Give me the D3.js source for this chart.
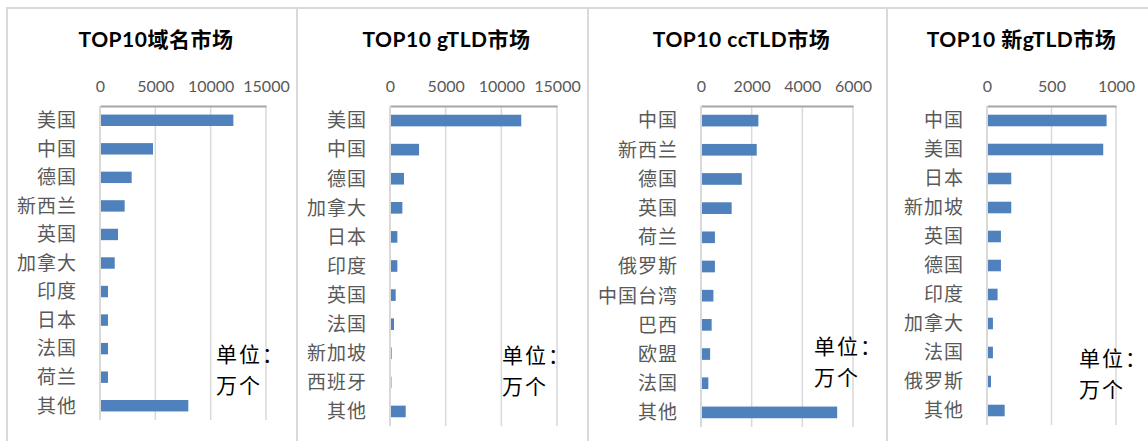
<!DOCTYPE html>
<html>
<head>
<meta charset="utf-8">
<script src="https://cdn.jsdelivr.net/npm/d3@7"></script>
<style>
  body { margin: 0; background: #fff; }
  svg { display: block; }
</style>
</head>
<body>
<svg id="chart" width="1148" height="441"></svg>
<script>
// data (units: 万个)
var titles = ["TOP10域名市场", "TOP10 gTLD市场", "TOP10 ccTLD市场", "TOP10 新gTLD市场"];

var allCats = ["美国", "中国", "德国", "新西兰", "英国", "加拿大", "印度", "日本", "法国", "荷兰", "其他"];
var allVals = [12050, 4790, 2860, 2230, 1630, 1330, 720, 720, 720, 720, 7980];

var gtldCats = ["美国", "中国", "德国", "加拿大", "日本", "印度", "英国", "法国", "新加坡", "西班牙", "其他"];
var gtldVals = [11790, 2610, 1260, 1110, 660, 660, 510, 360, 150, 130, 1410];

var cctldCats = ["中国", "新西兰", "德国", "英国", "荷兰", "俄罗斯", "中国台湾", "巴西", "欧盟", "法国", "其他"];
var cctldVals = [2265, 2200, 1610, 1210, 550, 550, 490, 420, 360, 290, 5375];

var newCats = ["中国", "美国", "日本", "新加坡", "英国", "德国", "印度", "加拿大", "法国", "俄罗斯", "其他"];
var newVals = [927, 901, 188, 188, 108, 108, 82, 46, 46, 31, 137];

var tickSets = [
    [0, 5000, 10000, 15000],
    [0, 5000, 10000, 15000],
    [0, 2000, 4000, 6000],
    [0, 500, 1000]
];

var unitLines = ["单位：", "万个"];

// layout of each panel (pixels)
var layout = [
    { left: 7,   right: 297, x0: 100, x1: 266, y0: 106, y1: 420, ux: 216, uy: 354 },
    { left: 297, right: 588, x0: 390, x1: 557, y0: 106, y1: 426, ux: 502, uy: 355 },
    { left: 588, right: 887, x0: 701, x1: 853, y0: 106, y1: 427, ux: 814, uy: 346 },
    { left: 887, right: 1148, x0: 987, x1: 1116, y0: 106, y1: 425, ux: 1079, uy: 358 }
];

var panels = [
    { cats: allCats, vals: allVals },
    { cats: gtldCats, vals: gtldVals },
    { cats: cctldCats, vals: cctldVals },
    { cats: newCats, vals: newVals }
];

var svg = d3.select("#chart");

// outer frame
svg.append("line")
    .attr("x1", 7).attr("x2", 1148).attr("y1", 8).attr("y2", 8)
    .attr("stroke", "#d9d9d9").attr("stroke-width", 2);

panels.forEach(function(p, i) {
    var L = layout[i];
    var ticks = tickSets[i];
    var g = svg.append("g");

    g.append("line")
        .attr("x1", L.left).attr("x2", L.left)
        .attr("y1", 7).attr("y2", 441)
        .attr("stroke", "#d9d9d9").attr("stroke-width", 2);

    var x = d3.scaleLinear()
        .domain([0, ticks[ticks.length - 1]])
        .range([L.x0, L.x1]);

    var y = d3.scaleBand()
        .domain(p.cats)
        .range([L.y0, L.y1])
        .paddingInner(0.6)
        .paddingOuter(0.3);

    // title
    g.append("text")
        .attr("x", (L.left + L.right) / 2 + 4)
        .attr("y", 47)
        .attr("text-anchor", "middle")
        .style("font-family", "Lato, 'Noto Sans CJK SC', sans-serif")
        .style("font-weight", "bold")
        .style("font-size", "21px")
        .style("letter-spacing", "0.5px")
        .style("fill", "#000")
        .text(titles[i]);

    // gridlines
    g.selectAll(".grid")
        .data(ticks.slice(1))
        .enter().append("line")
        .attr("x1", function(d) { return x(d); })
        .attr("x2", function(d) { return x(d); })
        .attr("y1", L.y0)
        .attr("y2", L.y1)
        .attr("stroke", "#d9d9d9")
        .attr("stroke-width", 1.5);

    // top axis
    var axis = d3.axisTop(x).tickValues(ticks).tickSize(0).tickPadding(14)
        .tickFormat(d3.format("d"));
    var ax = g.append("g")
        .attr("transform", "translate(0," + L.y0 + ")")
        .call(axis);
    ax.select(".domain").attr("stroke", "#a6a6a6").attr("stroke-width", 2);
    ax.selectAll("text")
        .style("font-family", "Lato, sans-serif")
        .style("font-size", "16px")
        .style("fill", "#595959");

    // left axis line
    g.append("line")
        .attr("x1", L.x0).attr("x2", L.x0)
        .attr("y1", L.y0).attr("y2", L.y1)
        .attr("stroke", "#d9d9d9").attr("stroke-width", 2);

    // bars
    g.selectAll(".bar")
        .data(p.vals)
        .enter().append("rect")
        .attr("x", x(0) + 1)
        .attr("y", function(d, j) { return y(p.cats[j]); })
        .attr("width", function(d) { return Math.max(0, x(d) - x(0) - 1); })
        .attr("height", y.bandwidth())
        .attr("fill", "#4f81bd");

    // category labels
    g.selectAll(".cat")
        .data(p.cats)
        .enter().append("text")
        .attr("x", L.x0 - 23)
        .attr("y", function(d) { return y(d) + y.bandwidth() / 2; })
        .attr("dy", "0.36em")
        .attr("text-anchor", "end")
        .style("font-family", "'Noto Sans CJK SC', sans-serif")
        .style("font-size", "19px")
        .style("letter-spacing", "1px")
        .style("fill", "#595959")
        .text(function(d) { return d; });

    // unit note
    g.selectAll(".unit")
        .data(unitLines)
        .enter().append("text")
        .attr("x", L.ux)
        .attr("y", function(d, j) { return L.uy + j * 31; })
        .attr("dy", "0.36em")
        .style("font-family", "'Noto Sans CJK SC', sans-serif")
        .style("font-size", "21px")
        .style("letter-spacing", "2px")
        .style("fill", "#000")
        .text(function(d) { return d; });
});
</script>
</body>
</html>
